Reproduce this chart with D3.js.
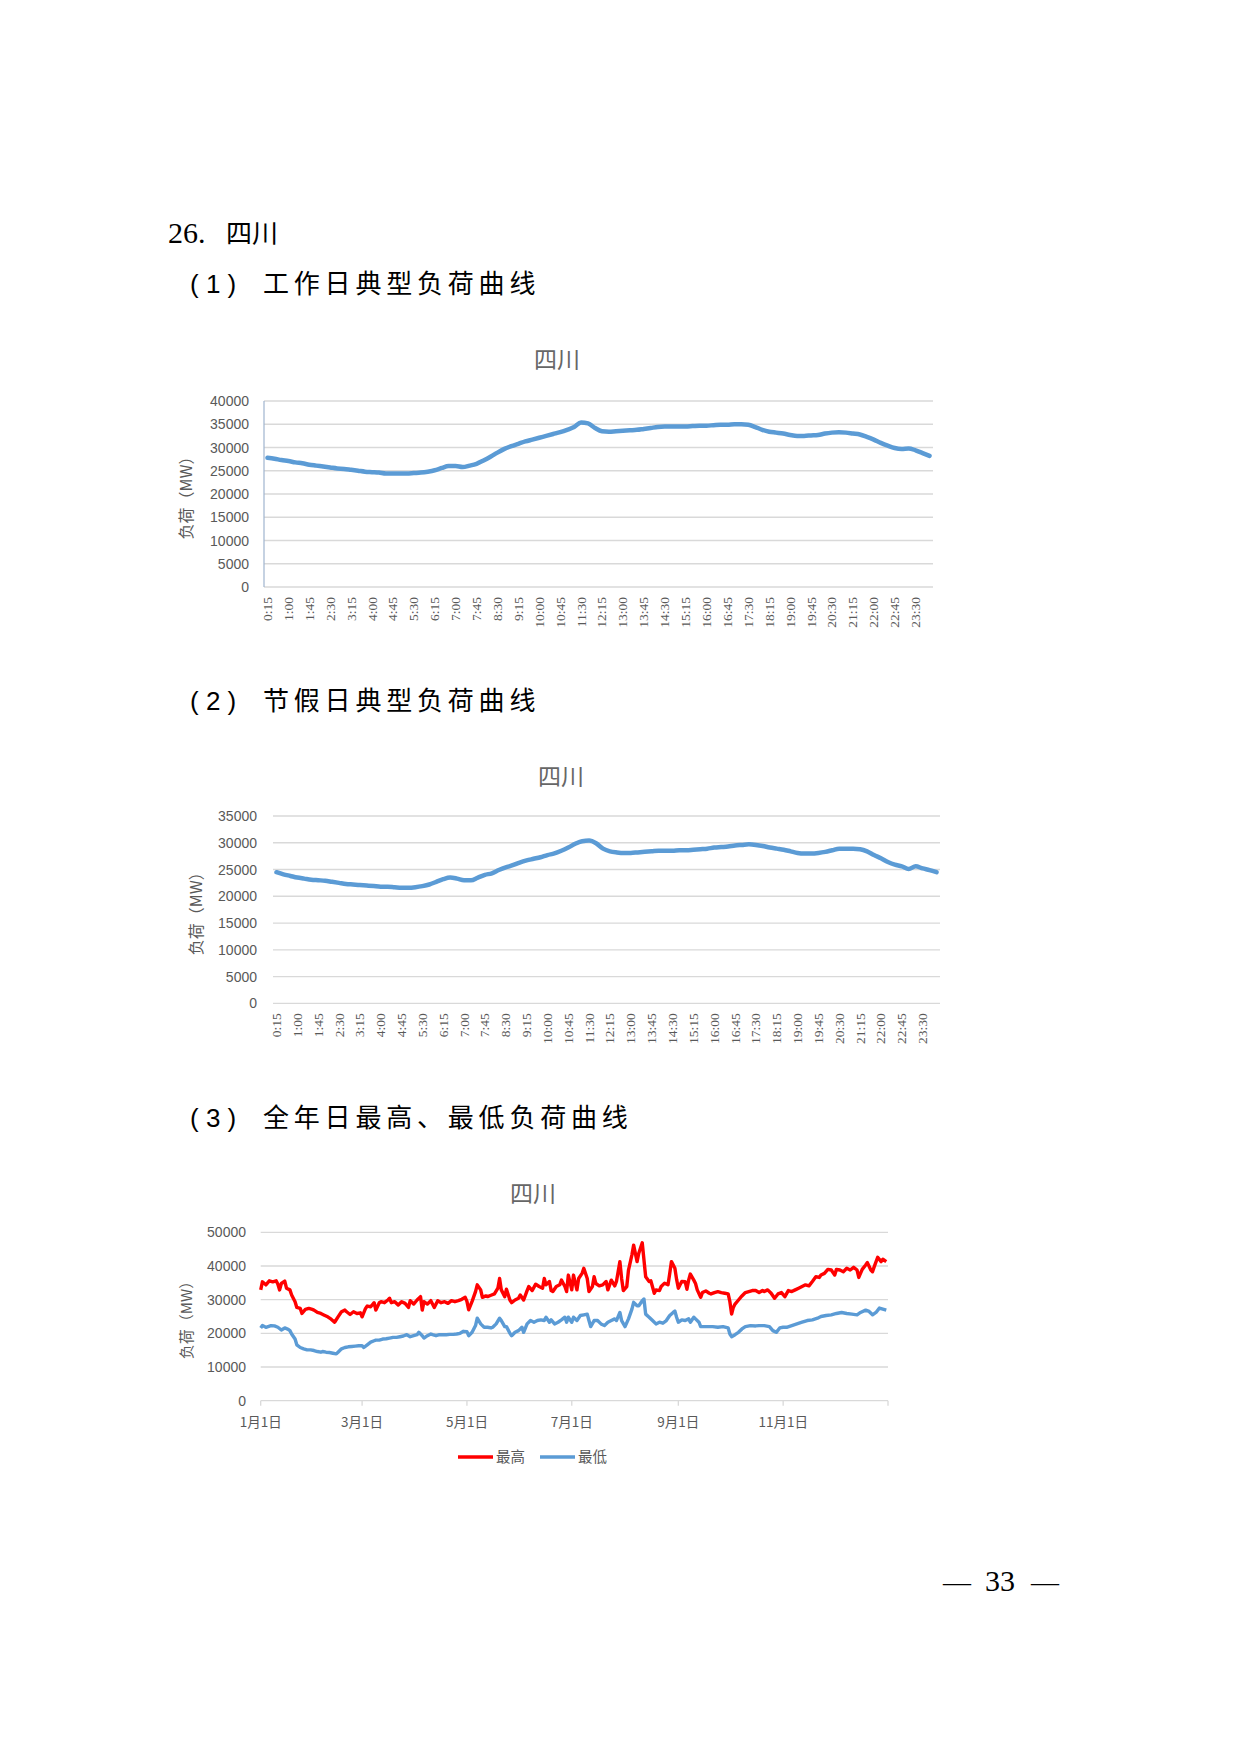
<!DOCTYPE html>
<html>
<head>
<meta charset="utf-8">
<script src="https://cdn.jsdelivr.net/npm/d3@7"></script>
<style>
  body { margin: 0; background: #fff; }
  svg { display: block; }
</style>
</head>
<body>
<div id="page"></div>
<script>
// ---- data ----
// 96 quarter-hour slots, 0:15 .. 24:00 (category names)
const timeSlots = d3.range(96).map(i => {
  const m = (i + 1) * 15
  return `${Math.floor(m / 60)}:${String(m % 60).padStart(2, "0")}`
})

// typical workday load, MW
const workdayLoad = [
  27800, 27600, 27300, 27100, 26800, 26600, 26300, 26100, 25900, 25700, 25500, 25400,
  25200, 25000, 24800, 24700, 24600, 24400, 24400, 24400, 24400, 24500, 24600, 24800,
  25100, 25600, 26000, 26000, 25800, 26100, 26500, 27200, 28000, 28900, 29700, 30300,
  30800, 31300, 31700, 32100, 32500, 32900, 33300, 33800, 34400, 35400, 35200, 34200,
  33500, 33400, 33500, 33600, 33700, 33800, 34000, 34200, 34400, 34500, 34500, 34500,
  34500, 34600, 34700, 34700, 34800, 34900, 34900, 35000, 35000, 34900, 34400, 33800,
  33400, 33200, 33000, 32700, 32500, 32500, 32600, 32700, 33000, 33200, 33300, 33200,
  33000, 32800, 32300, 31700, 31000, 30400, 29900, 29700, 29800, 29400, 28800, 28200
]

// typical holiday load, MW
const holidayLoad = [
  24500, 24100, 23800, 23500, 23300, 23100, 23000, 22900, 22700, 22500, 22300, 22200,
  22100, 22000, 21900, 21800, 21800, 21700, 21600, 21600, 21700, 21900, 22200, 22700,
  23200, 23500, 23300, 23000, 23000, 23500, 24000, 24300, 24900, 25400, 25800, 26300,
  26700, 27000, 27300, 27700, 28000, 28500, 29100, 29800, 30300, 30400, 29900, 28900,
  28400, 28200, 28100, 28100, 28200, 28300, 28400, 28500, 28500, 28500, 28600, 28600,
  28700, 28800, 28900, 29100, 29200, 29300, 29500, 29600, 29700, 29600, 29400, 29100,
  28900, 28700, 28400, 28100, 28000, 28000, 28100, 28300, 28600, 28900, 28900, 28900,
  28800, 28400, 27700, 27100, 26400, 25900, 25600, 25100, 25600, 25200, 24900, 24500
]

// annual daily max / min load: [day of year (0 = 1月1日), MW]
const dailyHigh = [
  [0,32900],[1,35300],[3,34400],[5,35600],[7,35300],[9,35600],[10,34600],[11,32900],[12,34800],
  [14,35500],[15,33400],[17,32900],[18,31400],[20,29400],[21,27700],[23,27400],[24,25900],
  [26,27100],[28,27400],[30,27100],[31,26900],[33,26200],[35,25900],[37,25400],[39,24900],
  [41,24200],[43,23300],[45,24900],[47,26400],[49,26900],[50,26400],[52,25600],[54,26400],
  [56,25900],[58,26100],[59,24900],[61,27400],[62,28100],[64,27900],[66,29100],[67,26900],
  [69,29100],[70,29400],[72,29100],[74,29900],[75,30400],[76,29100],[78,29400],[80,28400],
  [82,29400],[84,28900],[86,27700],[87,29700],[89,28700],[91,29900],[93,30900],[94,26900],
  [95,29400],[97,28700],[99,29700],[101,27700],[103,29700],[105,29100],[107,29400],[109,28900],
  [111,29700],[113,29400],[115,29700],[117,30100],[119,30700],[120,29500],[121,27000],
  [123,29500],[125,32400],[126,34400],[128,32900],[129,30700],[131,31100],[132,30900],
  [134,31300],[136,31700],[138,33400],[139,36300],[140,32900],[142,30900],[143,33100],
  [145,29900],[146,29100],[148,29900],[150,30400],[151,31400],[153,29900],[155,32700],
  [156,33900],[158,32700],[160,34600],[162,33900],[164,33400],[165,36300],[166,34400],
  [168,35400],[169,32700],[170,32400],[172,33900],[174,34400],[175,35800],[177,33900],
  [178,32400],[179,37300],[181,32900],[182,37300],[184,32900],[185,36300],[187,37800],
  [188,39300],[190,36300],[191,32400],[193,33900],[194,36800],[195,34800],[197,34100],
  [199,34400],[201,35400],[202,32900],[204,35800],[206,34100],[207,35400],[209,41300],
  [210,36300],[211,32700],[213,33900],[214,38800],[216,43300],[217,46200],[219,41300],
  [220,43800],[222,46900],[223,41800],[224,36800],[226,35400],[227,35600],[229,31900],
  [230,32900],[232,32700],[233,33900],[235,34900],[237,34400],[238,37800],[239,41300],
  [241,39300],[242,36000],[243,33400],[244,34400],[245,35400],[247,35300],[248,33100],
  [249,35800],[250,37600],[252,35800],[253,34800],[254,32900],[256,30700],[257,32100],
  [259,32600],[261,31900],[262,31700],[264,32100],[266,32400],[268,32100],[270,31900],
  [272,31700],[273,29400],[274,25700],[275,27700],[276,28700],[278,29900],[280,31100],
  [282,32100],[284,32400],[286,32700],[288,32700],[290,32100],[292,32700],[293,32400],
  [295,32900],[297,31900],[299,30400],[301,31700],[303,32100],[305,30900],[307,32700],
  [309,32400],[311,32900],[313,33400],[315,33900],[317,34400],[319,34100],[321,35400],
  [323,36800],[325,36600],[326,37300],[328,37800],[330,39000],[332,38800],[334,37300],
  [335,39000],[337,38800],[339,38300],[341,39300],[343,38800],[345,39600],[347,38800],
  [348,36600],[350,39000],[352,40300],[353,41000],[355,38800],[356,38300],[357,39800],
  [359,42600],[361,41300],[362,42000],[364,41300]
]

const dailyLow = [
  [0,21600],[1,22300],[3,21800],[6,22300],[8,22200],[10,21800],[12,21000],[14,21600],
  [16,21200],[17,20800],[18,19800],[20,18300],[21,16600],[23,15800],[25,15400],[27,15100],
  [29,15100],[31,14900],[33,14600],[35,14400],[36,14600],[38,14400],[40,14300],[42,14100],
  [44,13900],[45,14400],[47,15400],[49,15800],[51,16000],[53,16100],[55,16200],[57,16300],
  [59,16300],[60,15800],[62,16600],[64,17400],[66,17800],[67,18000],[69,18000],[71,18300],
  [73,18400],[75,18600],[77,18800],[79,18800],[81,19000],[83,19200],[85,19600],[87,19000],
  [89,19300],[91,19600],[92,20300],[94,19300],[95,18600],[97,19300],[99,19800],[100,19600],
  [102,19300],[104,19600],[106,19600],[108,19600],[110,19700],[112,19700],[114,19800],
  [116,20000],[118,20600],[120,20500],[121,19300],[123,20300],[125,22300],[126,24500],
  [128,22800],[130,21800],[132,21800],[134,21600],[135,21800],[137,22800],[139,24500],
  [140,23800],[142,22000],[143,22000],[145,20000],[146,19300],[148,20300],[150,20800],
  [152,21800],[153,20300],[155,22800],[157,23800],[159,23300],[161,23800],[163,24000],
  [165,23800],[166,24800],[168,23300],[169,24000],[171,22800],[173,23300],[175,24000],
  [177,24800],[178,23300],[179,24800],[181,23300],[182,24800],[184,23800],[186,25300],
  [188,25500],[190,25700],[191,23800],[192,22000],[194,23800],[196,23800],[198,22800],
  [200,22300],[202,23300],[204,23800],[206,24300],[207,23800],[209,26200],[210,23800],
  [212,22000],[214,24300],[216,27200],[217,29200],[219,28200],[220,28200],[222,29700],
  [223,30200],[224,25700],[226,24800],[228,23800],[230,22800],[232,23300],[234,23000],
  [236,23800],[238,25300],[240,26200],[241,26600],[242,24800],[243,23300],[245,24000],
  [247,23800],[249,24300],[250,23300],[252,24800],[253,24300],[255,23300],[256,22000],
  [258,22000],[260,22000],[263,22000],[266,21800],[269,22000],[272,21600],[273,19800],
  [274,19000],[276,19600],[278,20300],[280,21300],[282,22000],[285,22300],[288,22200],
  [290,22300],[293,22300],[296,22000],[298,20800],[300,20300],[302,21600],[304,21800],
  [306,21800],[309,22300],[312,22800],[315,23300],[318,23800],[321,24000],[324,24500],
  [326,25000],[329,25300],[332,25500],[335,25900],[338,26200],[341,25900],[344,25700],
  [347,25500],[349,26200],[352,26900],[354,26500],[356,25500],[358,26200],[360,27500],
  [362,27200],[364,26900]
]

const annualTickMonths = [0, 2, 4, 6, 8, 10]
const seriesNames = ["最高", "最低"]

// ---- page ----
const W = 1240, H = 1754
const GRAY = "#595959", GRID = "#d9d9d9", BLUE = "#5b9bd5", RED = "#ff0000"
const CJK = "'Noto Sans CJK SC', sans-serif"
const LATIN = "'Liberation Sans', Arial, sans-serif"
const SERIF = "'Liberation Serif', 'Times New Roman', serif"

const svg = d3.select("#page").append("svg")
  .attr("width", W)
  .attr("height", H)
  .attr("viewBox", `0 0 ${W} ${H}`)

svg.append("rect").attr("width", W).attr("height", H).attr("fill", "#fff")

function text(g, x, y, str, { size = 14, family = CJK, fill = GRAY, anchor = "start", spacing = 0, transform = null } = {}) {
  const t = g.append("text")
    .attr("x", x)
    .attr("y", y)
    .attr("font-family", family)
    .attr("font-size", size)
    .attr("fill", fill)
    .attr("text-anchor", anchor)
    .text(str)
  if (spacing) t.attr("letter-spacing", spacing)
  if (transform) t.attr("transform", transform)
  return t
}

// headings
text(svg, 168, 243, "26.", { size: 30, family: SERIF, fill: "#000" })
text(svg, 226, 243, "四川", { size: 26, fill: "#000" })

function sectionHeading(y, num, label) {
  text(svg, 190, y, `( ${num} )`, { size: 26, family: LATIN, fill: "#000" })
  text(svg, 263, y, label, { size: 26, fill: "#000", spacing: 4.8 })
}
sectionHeading(293, 1, "工作日典型负荷曲线")
sectionHeading(710, 2, "节假日典型负荷曲线")
sectionHeading(1127, 3, "全年日最高、最低负荷曲线")

// ---- typical day chart (category axis) ----
function drawDayChart(values, box) {
  const g = svg.append("g")

  const x = d3.scaleBand()
    .domain(timeSlots)
    .range([box.left, box.right])
  const y = d3.scaleLinear()
    .domain([0, box.yMax])
    .range([box.bottom, box.top])

  // gridlines
  const yTicks = d3.range(0, box.yMax + 1, 5000)
  g.append("g").selectAll("line")
    .data(yTicks)
    .join("line")
      .attr("x1", box.left)
      .attr("x2", box.right)
      .attr("y1", d => y(d))
      .attr("y2", d => y(d))
      .attr("stroke", GRID)
      .attr("stroke-width", 1.3)

  if (box.yAxisLine) {
    g.append("line")
      .attr("x1", box.left).attr("x2", box.left)
      .attr("y1", box.top).attr("y2", box.bottom)
      .attr("stroke", "#9fb4cf")
      .attr("stroke-width", 1.2)
  }

  // y tick labels
  g.append("g").selectAll("text")
    .data(yTicks)
    .join("text")
      .attr("x", box.labelRight)
      .attr("y", d => y(d) + 5)
      .attr("text-anchor", "end")
      .attr("font-family", LATIN)
      .attr("font-size", 14)
      .attr("fill", GRAY)
      .text(d => d)

  // x tick labels, every third slot, rotated
  const shown = timeSlots.filter((_, i) => i % 3 === 0)
  g.append("g").selectAll("text")
    .data(shown)
    .join("text")
      .attr("transform", d => `translate(${x(d) + x.bandwidth() / 2 + 4.5},${box.bottom + 10}) rotate(-90)`)
      .attr("text-anchor", "end")
      .attr("font-family", SERIF)
      .attr("font-size", 13.5)
      .attr("fill", GRAY)
      .text(d => d)

  // titles
  text(g, box.titleX, box.titleY, "四川", { size: 23, anchor: "middle", fill: "#666" })
  text(g, 0, 0, "负荷（MW）", {
    size: 16, anchor: "middle",
    transform: `translate(${box.yTitleX},${(box.top + box.bottom) / 2}) rotate(-90)`
  })

  // series
  const line = d3.line()
    .x((d, i) => x(timeSlots[i]) + x.bandwidth() / 2)
    .y(d => y(d))
    .curve(d3.curveMonotoneX)

  g.append("path")
    .datum(values)
    .attr("d", line)
    .attr("fill", "none")
    .attr("stroke", BLUE)
    .attr("stroke-width", 4.5)
    .attr("stroke-linejoin", "round")
    .attr("stroke-linecap", "round")
}

drawDayChart(workdayLoad, {
  left: 264, right: 933, top: 401, bottom: 587, yMax: 40000,
  labelRight: 249, titleX: 557, titleY: 368, yTitleX: 192, yAxisLine: true
})

drawDayChart(holidayLoad, {
  left: 273, right: 940, top: 816, bottom: 1003.3, yMax: 35000,
  labelRight: 257, titleX: 561, titleY: 785, yTitleX: 202, yAxisLine: false
})

// ---- annual chart (date axis) ----
function drawAnnualChart(box) {
  const g = svg.append("g")
  const yearStart = new Date(2019, 0, 1)
  const day = d => d3.timeDay.offset(yearStart, d)

  const x = d3.scaleTime()
    .domain([yearStart, new Date(2020, 0, 1)])
    .range([box.left, box.right])
  const y = d3.scaleLinear()
    .domain([0, 50000])
    .range([box.bottom, box.top])

  const yTicks = d3.range(0, 50001, 10000)
  g.append("g").selectAll("line")
    .data(yTicks)
    .join("line")
      .attr("x1", box.left)
      .attr("x2", box.right)
      .attr("y1", d => y(d))
      .attr("y2", d => y(d))
      .attr("stroke", GRID)
      .attr("stroke-width", 1.3)

  g.append("g").selectAll("text")
    .data(yTicks)
    .join("text")
      .attr("x", box.labelRight)
      .attr("y", d => y(d) + 5)
      .attr("text-anchor", "end")
      .attr("font-family", LATIN)
      .attr("font-size", 14)
      .attr("fill", GRAY)
      .text(d => d)

  // x axis ticks
  const tickDates = annualTickMonths.map(m => new Date(2019, m, 1)).concat([new Date(2020, 0, 1)])
  g.append("g").selectAll("line")
    .data(tickDates)
    .join("line")
      .attr("x1", d => x(d))
      .attr("x2", d => x(d))
      .attr("y1", box.bottom)
      .attr("y2", box.bottom + 5)
      .attr("stroke", GRID)
      .attr("stroke-width", 1.3)

  g.append("g").selectAll("text")
    .data(annualTickMonths)
    .join("text")
      .attr("x", m => x(new Date(2019, m, 1)))
      .attr("y", box.bottom + 26)
      .attr("text-anchor", "middle")
      .attr("font-family", CJK)
      .attr("font-size", 13.5)
      .attr("fill", GRAY)
      .text(m => `${m + 1}月1日`)

  text(g, box.titleX, box.titleY, "四川", { size: 23, anchor: "middle", fill: "#666" })
  text(g, 0, 0, "负荷（MW）", {
    size: 15, anchor: "middle",
    transform: `translate(${box.yTitleX},${(box.top + box.bottom) / 2}) rotate(-90)`
  })

  const line = d3.line()
    .x(d => x(day(d[0])))
    .y(d => y(d[1]))

  const series = [
    { name: seriesNames[0], data: dailyHigh, color: RED },
    { name: seriesNames[1], data: dailyLow, color: BLUE }
  ]

  series.forEach(s => {
    g.append("path")
      .datum(s.data)
      .attr("d", line)
      .attr("fill", "none")
      .attr("stroke", s.color)
      .attr("stroke-width", 3.4)
      .attr("stroke-linejoin", "round")
  })

  // legend
  const legend = g.append("g")
  const legendX = [458, 540]
  series.forEach((s, i) => {
    legend.append("line")
      .attr("x1", legendX[i]).attr("x2", legendX[i] + 35)
      .attr("y1", box.legendY).attr("y2", box.legendY)
      .attr("stroke", s.color)
      .attr("stroke-width", 3.4)
    text(legend, legendX[i] + 38, box.legendY + 5, s.name, { size: 14.5 })
  })
}

drawAnnualChart({
  left: 260.7, right: 888, top: 1232.3, bottom: 1400.7,
  labelRight: 246, titleX: 533, titleY: 1202, yTitleX: 192, legendY: 1457
})

// page number
text(svg, 957, 1591, "—", { size: 28, family: SERIF, fill: "#000", anchor: "middle" })
text(svg, 1000, 1591, "33", { size: 30, family: SERIF, fill: "#000", anchor: "middle" })
text(svg, 1045, 1591, "—", { size: 28, family: SERIF, fill: "#000", anchor: "middle" })
</script>
</body>
</html>
